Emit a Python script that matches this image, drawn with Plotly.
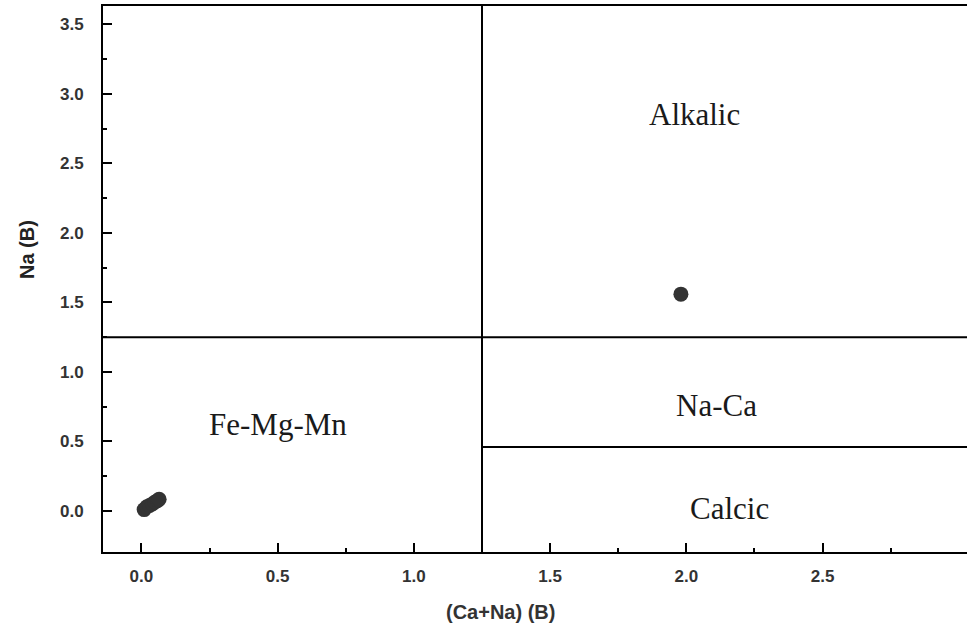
import plotly.graph_objects as go

# Sample compositions
ca_na_b = [0.01, 0.02, 0.03, 0.04, 0.05, 0.06, 0.065, 1.98]
na_b = [0.01, 0.03, 0.04, 0.05, 0.065, 0.075, 0.085, 1.56]

# Classification boundaries
boundary_canab = 1.25
boundary_nab_upper = 1.25
boundary_nab_lower = 0.46

# Field labels
field_names = ["Alkalic", "Na-Ca", "Calcic", "Fe-Mg-Mn"]
field_x = [2.03, 2.11, 2.16, 0.50]
field_y = [2.85, 0.76, 0.02, 0.62]

x_ticks = [0.0, 0.5, 1.0, 1.5, 2.0, 2.5]
x_tick_labels = ["0.0", "0.5", "1.0", "1.5", "2.0", "2.5"]
y_ticks = [0.0, 0.5, 1.0, 1.5, 2.0, 2.5, 3.0, 3.5]
y_tick_labels = ["0.0", "0.5", "1.0", "1.5", "2.0", "2.5", "3.0", "3.5"]
x_minor = [0.25, 0.75, 1.25, 1.75, 2.25, 2.75]
y_minor = [0.25, 0.75, 1.25, 1.75, 2.25, 2.75, 3.25]

fig = go.Figure()
fig.add_trace(go.Scatter(
    x=ca_na_b, y=na_b, mode="markers",
    marker=dict(size=15, color="#333333", line=dict(width=0)),
    showlegend=False, hoverinfo="skip"))

line_style = dict(color="black", width=2)
fig.add_shape(type="line", xref="x", yref="paper", x0=boundary_canab, x1=boundary_canab,
              y0=0, y1=1, line=line_style, layer="above")
fig.add_shape(type="line", xref="paper", yref="y", x0=0, x1=1,
              y0=boundary_nab_upper, y1=boundary_nab_upper, line=line_style, layer="above")
fig.add_shape(type="line", xref="x", yref="y", x0=boundary_canab, x1=3.03,
              y0=boundary_nab_lower, y1=boundary_nab_lower, line=line_style, layer="above")

for name, fx, fy in zip(field_names, field_x, field_y):
    fig.add_annotation(x=fx, y=fy, xref="x", yref="y", text=name, showarrow=False,
                       font=dict(family="Liberation Serif, Times New Roman, serif",
                                 size=31, color="#1a1a1a"))

fig.add_annotation(x=(500 - 103) / 864, y=-0.11, xref="paper", yref="paper",
                   text="<b>(Ca+Na) (B)</b>", showarrow=False, xanchor="center",
                   yanchor="middle",
                   font=dict(family="Arial, Liberation Sans, sans-serif", size=20, color="#333333"))
fig.add_annotation(x=(27 - 103) / 864, y=(552 - 250) / 546, xref="paper", yref="paper",
                   text="<b>Na (B)</b>", showarrow=False, textangle=-90,
                   xanchor="center", yanchor="middle",
                   font=dict(family="Arial, Liberation Sans, sans-serif", size=20, color="#222222"))

axis_font = dict(family="Arial, Liberation Sans, sans-serif", size=17, color="#333333")
fig.update_xaxes(range=[-0.141, 3.03], tickvals=x_ticks,
                 ticktext=["<b>%s</b>" % t for t in x_tick_labels],
                 ticks="inside", ticklen=9, tickwidth=2, tickcolor="black",
                 showline=True, linecolor="black", linewidth=2, mirror=True,
                 showgrid=False, zeroline=False, tickfont=axis_font,
                 ticklabelstandoff=8,
                 minor=dict(tickvals=x_minor, ticks="inside", ticklen=4, tickwidth=2,
                            tickcolor="black", showgrid=False))
fig.update_yaxes(range=[-0.295, 3.633], tickvals=y_ticks,
                 ticktext=["<b>%s</b>" % t for t in y_tick_labels],
                 ticks="inside", ticklen=9, tickwidth=2, tickcolor="black",
                 showline=True, linecolor="black", linewidth=2, mirror=False,
                 showgrid=False, zeroline=False, tickfont=axis_font,
                 ticklabelstandoff=14,
                 minor=dict(tickvals=y_minor, ticks="inside", ticklen=4, tickwidth=2,
                            tickcolor="black", showgrid=False))

fig.update_layout(width=967, height=634, margin=dict(l=103, r=0, t=6, b=82),
                  plot_bgcolor="white", paper_bgcolor="white")

fig.write_html("out.html")
